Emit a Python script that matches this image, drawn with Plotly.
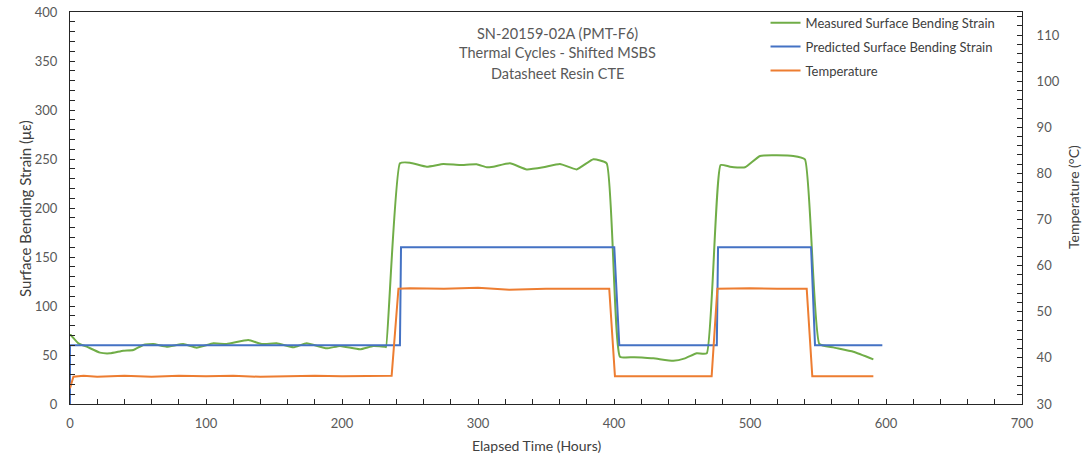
import plotly.graph_objects as go

# ---- data ----
measured_hours = [0, 0.5, 6.1, 12.3, 22, 29.4, 39.2, 46.6, 53.9, 61.3, 71.1, 83.3, 93.1, 105.4,
                  115.2, 131.1, 140.9, 152, 164.2, 174, 188.7, 198.5, 213.2, 223, 231.6, 232.4,
                  242.6, 250, 262.3, 274.5, 286.8, 299, 306.4, 311.3, 323.5, 335.8, 348, 360.3,
                  372.5, 384.8, 394.6, 404.4, 414.2, 428.9, 443.6, 452.2, 460.8, 468.2, 478.4,
                  485.3, 496.3, 507.4, 531.8, 540.4, 551, 561.3, 576, 590.7]
measured_strain = [70.4, 70.4, 61.9, 58.5, 52.4, 51.7, 54.4, 55.1, 60.2, 61.2, 58.5, 61.2, 57.5,
                   61.9, 61.2, 65.3, 61.2, 61.9, 57.8, 61.9, 56.8, 59.2, 55.8, 59.2, 58.5, 58.0,
                   245.6, 246.3, 242.2, 244.9, 243.9, 244.6, 241.5, 242.2, 245.6, 239.4, 241.5,
                   244.9, 239.4, 249.7, 245.6, 48.3, 47.7, 46.6, 44.2, 46.6, 51.7, 51.7, 243.9,
                   242.2, 241.5, 253.1, 253.1, 249.7, 61.2, 57.8, 53.4, 45.6]

predicted_hours = [0, 0, 242.6, 243.4, 400.2, 403.9, 475.6, 476.5, 544.9, 547.8, 597.3]
predicted_strain = [0, 60, 60, 160, 160, 60, 60, 160, 160, 60, 60]

temp_hours = [0, 2.5, 10, 20, 30, 40, 60, 80, 100, 120, 140, 160, 180, 200, 220, 236.5,
              241.5, 250, 275, 300, 323, 350, 375, 396.5, 400.7, 420, 440, 460, 471.8,
              476, 500, 520, 541.7, 545.8, 560, 575, 590.7]
temp_c = [33.4, 35.9, 36.1, 35.9, 36.0, 36.1, 35.9, 36.1, 36.0, 36.1, 35.9, 36.0, 36.1, 36.0,
          36.1, 36.1, 55.0, 55.1, 55.0, 55.2, 54.8, 55.0, 55.0, 55.0, 36.0, 36.0, 36.1, 36.0,
          36.0, 55.0, 55.1, 55.0, 55.0, 36.0, 36.0, 36.0, 36.0]

series_names = ["Measured Surface Bending Strain", "Predicted Surface Bending Strain", "Temperature"]
title_lines = ["SN-20159-02A (PMT-F6)", "Thermal Cycles - Shifted MSBS", "Datasheet Resin CTE"]
x_title = "Elapsed Time (Hours)"
y_title = "Surface Bending Strain (με)"
y2_title = "Temperature (°C)"

GREEN, BLUE, ORANGE = "#70AD47", "#4472C4", "#ED7D31"
GRAY = "#595959"
TITLE_GRAY = "#404040"
FONT = "Lato, Carlito, Calibri, sans-serif"

fig = go.Figure()
fig.add_trace(go.Scatter(x=measured_hours, y=measured_strain, mode="lines", name=series_names[0],
                         legendgroup="g1",
                         line=dict(color=GREEN, width=2, shape="spline", smoothing=0.4)))
fig.add_trace(go.Scatter(x=predicted_hours, y=predicted_strain, mode="lines", name=series_names[1],
                         legendgroup="g2", line=dict(color=BLUE, width=2)))
fig.add_trace(go.Scatter(x=temp_hours, y=temp_c, mode="lines", name=series_names[2], yaxis="y2",
                         legendgroup="g3", line=dict(color=ORANGE, width=2)))

axis_common = dict(showline=True, linecolor="#262626", linewidth=1, showgrid=False, zeroline=False,
                   ticks="inside", ticklen=5, tickcolor="#262626", automargin=False,
                   tickfont=dict(family=FONT, size=13, color=GRAY))

fig.update_layout(
    width=1092, height=457,
    margin=dict(l=70, r=70, t=12, b=53, autoexpand=False),
    paper_bgcolor="white", plot_bgcolor="white",
    font=dict(family=FONT, color=GRAY),
    xaxis=dict(range=[0, 700], dtick=100, mirror=True, ticklabelstandoff=7,
               minor=dict(dtick=20, ticks="inside", ticklen=5, tickcolor="#262626"),
               **axis_common),
    yaxis=dict(range=[0, 400], dtick=50, ticklabelstandoff=9,
               minor=dict(dtick=10, ticks="inside", ticklen=5, tickcolor="#262626"),
               **axis_common),
    yaxis2=dict(range=[30, 115], tickvals=[30, 40, 50, 60, 70, 80, 90, 100, 110],
                overlaying="y", side="right", ticklabelstandoff=11,
                minor=dict(dtick=2, ticks="inside", ticklen=5, tickcolor="#262626"),
                **axis_common),
    legend=dict(x=0.7306, y=1.011, xanchor="left", yanchor="top", bgcolor="rgba(255,255,255,0)",
                font=dict(family=FONT, size=13, color=TITLE_GRAY), tracegroupgap=4, itemwidth=30),
    showlegend=True,
)

title_py = [33, 53, 73]
for line, py in zip(title_lines, title_py):
    fig.add_annotation(text=line, xref="paper", yref="paper",
                       x=0.5116, y=(404 - py) / 392, xanchor="center", yanchor="middle",
                       showarrow=False, font=dict(family=FONT, size=14.5, color=GRAY))

# axis titles
fig.add_annotation(text=x_title, xref="paper", yref="paper", x=0.4905, y=-0.107,
                   xanchor="center", yanchor="middle", showarrow=False,
                   font=dict(family=FONT, size=14, color=TITLE_GRAY))
fig.add_annotation(text=y_title, xref="paper", yref="paper", x=-0.0473, y=0.5, textangle=-90,
                   xanchor="center", yanchor="middle", showarrow=False,
                   font=dict(family=FONT, size=15, color=TITLE_GRAY))
fig.add_annotation(text=y2_title, xref="paper", yref="paper", x=1.0536, y=0.528, textangle=-90,
                   xanchor="center", yanchor="middle", showarrow=False,
                   font=dict(family=FONT, size=14, color=TITLE_GRAY))

fig.write_html("out.html")
